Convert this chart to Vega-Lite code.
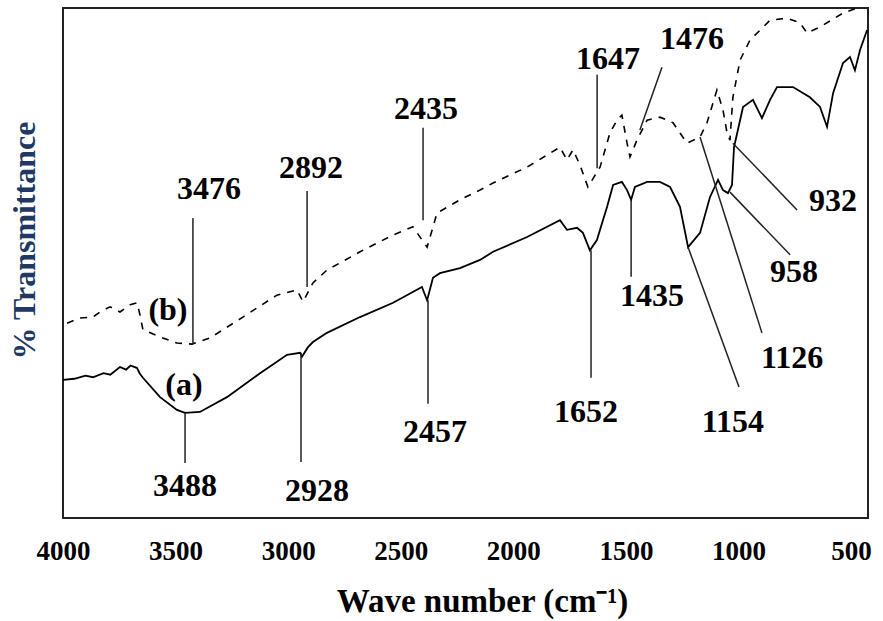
{
  "$schema": "https://vega.github.io/schema/vega-lite/v6.json",
  "autosize": {"type": "none"},
  "width": 805,
  "height": 510,
  "padding": {"left": 63, "top": 8, "right": 15, "bottom": 103},
  "background": "white",
  "config": {
    "view": {"stroke": "#222222", "strokeWidth": 2},
    "font": "Liberation Serif"
  },
  "datasets": {
    "spectra": [
      {"s": "a", "wn": 4000, "t": 27.1}, {"s": "a", "wn": 3950, "t": 27.3}, {"s": "a", "wn": 3900, "t": 27.9},
      {"s": "a", "wn": 3867, "t": 27.6}, {"s": "a", "wn": 3820, "t": 28.4}, {"s": "a", "wn": 3790, "t": 28.1},
      {"s": "a", "wn": 3747, "t": 29.6}, {"s": "a", "wn": 3720, "t": 29.1}, {"s": "a", "wn": 3700, "t": 29.9},
      {"s": "a", "wn": 3671, "t": 29.4}, {"s": "a", "wn": 3660, "t": 28.4}, {"s": "a", "wn": 3645, "t": 27.5},
      {"s": "a", "wn": 3569, "t": 23.7}, {"s": "a", "wn": 3494, "t": 21.2}, {"s": "a", "wn": 3458, "t": 20.6},
      {"s": "a", "wn": 3392, "t": 20.8}, {"s": "a", "wn": 3272, "t": 23.7}, {"s": "a", "wn": 3125, "t": 28.4},
      {"s": "a", "wn": 3005, "t": 32.0}, {"s": "a", "wn": 2947, "t": 32.4}, {"s": "a", "wn": 2939, "t": 31.6},
      {"s": "a", "wn": 2912, "t": 33.5}, {"s": "a", "wn": 2890, "t": 34.5}, {"s": "a", "wn": 2828, "t": 36.3},
      {"s": "a", "wn": 2681, "t": 39.4}, {"s": "a", "wn": 2534, "t": 42.2}, {"s": "a", "wn": 2406, "t": 45.3},
      {"s": "a", "wn": 2383, "t": 42.7}, {"s": "a", "wn": 2357, "t": 47.1}, {"s": "a", "wn": 2326, "t": 48.0},
      {"s": "a", "wn": 2237, "t": 49.0}, {"s": "a", "wn": 2148, "t": 50.6}, {"s": "a", "wn": 2090, "t": 52.2},
      {"s": "a", "wn": 1939, "t": 55.1}, {"s": "a", "wn": 1793, "t": 58.4}, {"s": "a", "wn": 1762, "t": 56.5},
      {"s": "a", "wn": 1717, "t": 56.9}, {"s": "a", "wn": 1691, "t": 55.9}, {"s": "a", "wn": 1660, "t": 52.5},
      {"s": "a", "wn": 1629, "t": 54.5}, {"s": "a", "wn": 1584, "t": 61.0}, {"s": "a", "wn": 1557, "t": 65.3},
      {"s": "a", "wn": 1518, "t": 65.9}, {"s": "a", "wn": 1495, "t": 64.3}, {"s": "a", "wn": 1477, "t": 62.4},
      {"s": "a", "wn": 1460, "t": 64.9}, {"s": "a", "wn": 1406, "t": 65.9}, {"s": "a", "wn": 1349, "t": 65.9},
      {"s": "a", "wn": 1304, "t": 64.9}, {"s": "a", "wn": 1260, "t": 61.0}, {"s": "a", "wn": 1224, "t": 53.1},
      {"s": "a", "wn": 1171, "t": 55.9}, {"s": "a", "wn": 1127, "t": 62.9}, {"s": "a", "wn": 1091, "t": 66.3},
      {"s": "a", "wn": 1069, "t": 64.3}, {"s": "a", "wn": 1047, "t": 63.7}, {"s": "a", "wn": 1029, "t": 65.3},
      {"s": "a", "wn": 1020, "t": 72.7}, {"s": "a", "wn": 980, "t": 80.6}, {"s": "a", "wn": 936, "t": 82.0},
      {"s": "a", "wn": 896, "t": 78.4}, {"s": "a", "wn": 860, "t": 82.0}, {"s": "a", "wn": 829, "t": 84.5},
      {"s": "a", "wn": 758, "t": 84.5}, {"s": "a", "wn": 683, "t": 82.5}, {"s": "a", "wn": 638, "t": 80.6},
      {"s": "a", "wn": 607, "t": 76.7}, {"s": "a", "wn": 580, "t": 83.3}, {"s": "a", "wn": 536, "t": 89.2},
      {"s": "a", "wn": 505, "t": 90.4}, {"s": "a", "wn": 483, "t": 87.8}, {"s": "a", "wn": 460, "t": 91.8},
      {"s": "a", "wn": 429, "t": 95.7},
      {"s": "b", "wn": 3982, "t": 38.2}, {"s": "b", "wn": 3925, "t": 39.2}, {"s": "b", "wn": 3867, "t": 39.4},
      {"s": "b", "wn": 3836, "t": 40.4}, {"s": "b", "wn": 3791, "t": 41.4}, {"s": "b", "wn": 3747, "t": 40.4},
      {"s": "b", "wn": 3702, "t": 41.8}, {"s": "b", "wn": 3671, "t": 42.2}, {"s": "b", "wn": 3658, "t": 39.8},
      {"s": "b", "wn": 3645, "t": 36.9}, {"s": "b", "wn": 3569, "t": 35.5}, {"s": "b", "wn": 3494, "t": 34.3},
      {"s": "b", "wn": 3427, "t": 34.1}, {"s": "b", "wn": 3347, "t": 35.3}, {"s": "b", "wn": 3201, "t": 39.4},
      {"s": "b", "wn": 3050, "t": 43.7}, {"s": "b", "wn": 2961, "t": 44.7}, {"s": "b", "wn": 2934, "t": 42.4},
      {"s": "b", "wn": 2890, "t": 46.1}, {"s": "b", "wn": 2828, "t": 48.6}, {"s": "b", "wn": 2681, "t": 52.2},
      {"s": "b", "wn": 2534, "t": 55.5}, {"s": "b", "wn": 2446, "t": 57.1}, {"s": "b", "wn": 2383, "t": 53.1},
      {"s": "b", "wn": 2339, "t": 59.8}, {"s": "b", "wn": 2237, "t": 62.4}, {"s": "b", "wn": 2148, "t": 64.3},
      {"s": "b", "wn": 2090, "t": 65.7}, {"s": "b", "wn": 1939, "t": 68.8}, {"s": "b", "wn": 1793, "t": 72.7},
      {"s": "b", "wn": 1762, "t": 70.2}, {"s": "b", "wn": 1735, "t": 72.2}, {"s": "b", "wn": 1704, "t": 69.2},
      {"s": "b", "wn": 1669, "t": 64.9}, {"s": "b", "wn": 1615, "t": 68.8}, {"s": "b", "wn": 1571, "t": 75.5},
      {"s": "b", "wn": 1540, "t": 78.0}, {"s": "b", "wn": 1518, "t": 79.0}, {"s": "b", "wn": 1495, "t": 73.5},
      {"s": "b", "wn": 1482, "t": 70.8}, {"s": "b", "wn": 1451, "t": 74.1}, {"s": "b", "wn": 1406, "t": 78.0},
      {"s": "b", "wn": 1349, "t": 78.6}, {"s": "b", "wn": 1291, "t": 77.5}, {"s": "b", "wn": 1229, "t": 73.5},
      {"s": "b", "wn": 1171, "t": 74.7}, {"s": "b", "wn": 1140, "t": 77.5}, {"s": "b", "wn": 1096, "t": 83.9},
      {"s": "b", "wn": 1069, "t": 80.0}, {"s": "b", "wn": 1051, "t": 75.5}, {"s": "b", "wn": 1038, "t": 74.1},
      {"s": "b", "wn": 1025, "t": 82.5}, {"s": "b", "wn": 993, "t": 89.8}, {"s": "b", "wn": 949, "t": 93.7},
      {"s": "b", "wn": 860, "t": 97.6}, {"s": "b", "wn": 785, "t": 98.0}, {"s": "b", "wn": 727, "t": 97.1},
      {"s": "b", "wn": 696, "t": 95.1}, {"s": "b", "wn": 638, "t": 96.3}, {"s": "b", "wn": 536, "t": 99.0},
      {"s": "b", "wn": 474, "t": 100.0}
    ],
    "leaders": [
      {"wn": 3423, "t": 58.8, "wn2": 3423, "t2": 34.1},
      {"wn": 2916, "t": 64.1, "wn2": 2916, "t2": 45.3},
      {"wn": 2401, "t": 76.5, "wn2": 2401, "t2": 58.4},
      {"wn": 1628, "t": 86.9, "wn2": 1628, "t2": 68.6},
      {"wn": 1340, "t": 88.4, "wn2": 1438, "t2": 76.1},
      {"wn": 740, "t": 60.4, "wn2": 1025, "t2": 73.5},
      {"wn": 771, "t": 51.6, "wn2": 1038, "t2": 63.9},
      {"wn": 896, "t": 36.3, "wn2": 1171, "t2": 74.7},
      {"wn": 998, "t": 25.7, "wn2": 1224, "t2": 53.1},
      {"wn": 1477, "t": 62.4, "wn2": 1477, "t2": 47.3},
      {"wn": 1655, "t": 52.5, "wn2": 1655, "t2": 27.5},
      {"wn": 2379, "t": 42.7, "wn2": 2379, "t2": 22.4},
      {"wn": 2943, "t": 32.4, "wn2": 2943, "t2": 11.0},
      {"wn": 3458, "t": 20.6, "wn2": 3458, "t2": 10.8}
    ],
    "labels": [
      {"label": "3476", "wn": 3352, "t": 64.5},
      {"label": "2892", "wn": 2899, "t": 68.6},
      {"label": "2435", "wn": 2388, "t": 80.2},
      {"label": "1647", "wn": 1580, "t": 90.0},
      {"label": "1476", "wn": 1207, "t": 93.9},
      {"label": "932", "wn": 580, "t": 62.2},
      {"label": "958", "wn": 754, "t": 48.2},
      {"label": "1126", "wn": 762, "t": 31.4},
      {"label": "1154", "wn": 1025, "t": 18.8},
      {"label": "1435", "wn": 1384, "t": 43.5},
      {"label": "1652", "wn": 1677, "t": 20.8},
      {"label": "2457", "wn": 2348, "t": 16.9},
      {"label": "2928", "wn": 2872, "t": 5.3},
      {"label": "3488", "wn": 3458, "t": 6.3},
      {"label": "(b)", "wn": 3534, "t": 40.8},
      {"label": "(a)", "wn": 3463, "t": 26.1}
    ]
  },
  "encoding": {
    "x": {
      "field": "wn", "type": "quantitative",
      "scale": {"domain": [4000, 425], "nice": false, "zero": false},
      "axis": {
        "values": [4000, 3500, 3000, 2500, 2000, 1500, 1000, 500],
        "format": "d", "grid": false, "domain": false, "ticks": false, "tickSize": 0,
        "labelPadding": 20, "labelFlush": false, "labelFont": "Liberation Serif",
        "labelFontWeight": "bold", "labelFontSize": 27, "labelColor": "#000000",
        "title": "Wave number (cm⁻¹)", "titleFont": "Liberation Serif", "titleFontWeight": "bold",
        "titleFontSize": 33, "titleColor": "#000000", "titleX": 419, "titleY": 93,
        "titleBaseline": "alphabetic", "titleAlign": "center"
      }
    },
    "y": {
      "field": "t", "type": "quantitative",
      "scale": {"domain": [0, 100], "nice": false, "zero": false},
      "axis": {
        "labels": false, "ticks": false, "domain": false, "grid": false,
        "title": "% Transmittance", "titleFont": "Liberation Serif", "titleFontWeight": "bold",
        "titleFontSize": 32, "titleColor": "#203864", "titleAngle": 270,
        "titleX": -29, "titleY": 232, "titleBaseline": "alphabetic", "titleAlign": "center"
      }
    }
  },
  "layer": [
    {
      "data": {"name": "spectra"},
      "transform": [{"filter": "datum.s === 'a'"}],
      "mark": {"type": "line", "color": "#000000", "strokeWidth": 1.8, "clip": true}
    },
    {
      "data": {"name": "spectra"},
      "transform": [{"filter": "datum.s === 'b'"}],
      "mark": {"type": "line", "color": "#000000", "strokeWidth": 1.6, "strokeDash": [7, 7], "clip": true}
    },
    {
      "data": {"name": "leaders"},
      "mark": {"type": "rule", "color": "#222222", "strokeWidth": 1.5},
      "encoding": {
        "x2": {"field": "wn2"},
        "y2": {"field": "t2"}
      }
    },
    {
      "data": {"name": "labels"},
      "mark": {"type": "text", "font": "Liberation Serif", "fontWeight": "bold", "fontSize": 32, "color": "#000000", "align": "center", "baseline": "middle"},
      "encoding": {"text": {"field": "label"}}
    }
  ]
}
